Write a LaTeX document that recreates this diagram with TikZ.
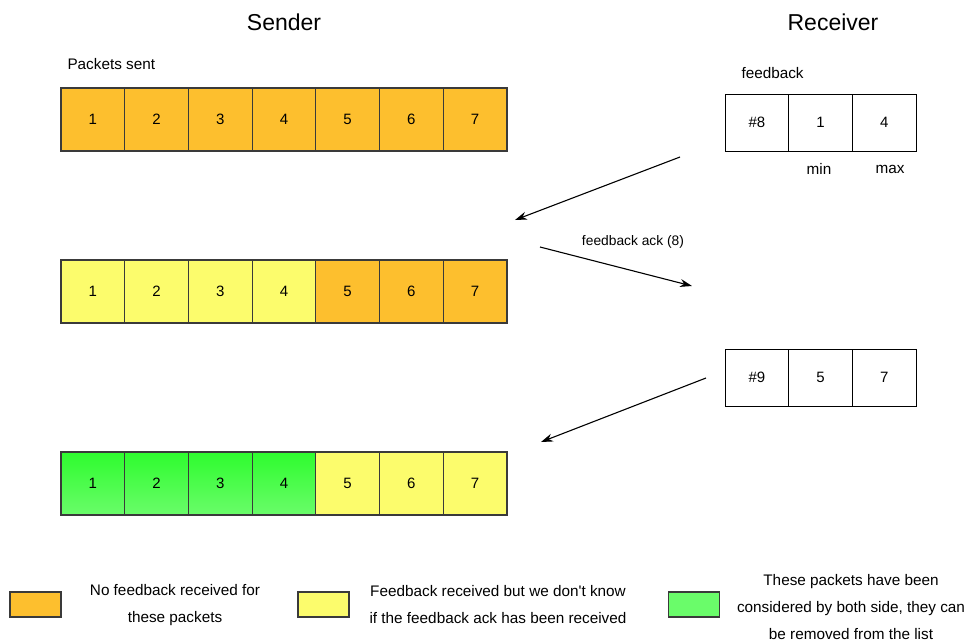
\documentclass[tikz,border=0pt]{standalone}
\usepackage{fontspec}
\setmainfont{Liberation Sans}
\usetikzlibrary{arrows.meta}
\definecolor{pktorange}{HTML}{FDBF2E}
\definecolor{pktyellow}{HTML}{FCFC6C}
\definecolor{pktgreentop}{HTML}{2EFC2E}
\definecolor{pktgreenbot}{HTML}{6AFC6A}
\definecolor{edge}{HTML}{3A3A3A}
\tikzset{
  cell/.style={draw=edge, line width=1.2pt, minimum width=63.7pt, minimum height=63pt,
    inner sep=0pt, font=\fontsize{15}{17}\selectfont},
  sentcell/.style={cell, fill=pktorange},
  ackcell/.style={cell, fill=pktyellow},
  donecell/.style={cell, top color=pktgreentop, bottom color=pktgreenbot},
  fbcell/.style={cell, draw=black, line width=0.9pt, minimum height=57pt, fill=white},
  title/.style={font=\fontsize{23}{27}\selectfont},
  lbl/.style={font=\fontsize{15.3}{18}\selectfont},
  acklabel/.style={font=\fontsize{13.8}{16}\selectfont},
  legtext/.style={font=\fontsize{15.3}{17}\selectfont, align=center},
  legbox/.style={draw=edge, line width=1.2pt, minimum width=51pt, minimum height=25pt, inner sep=0pt},
  msg/.style={-{Stealth[length=12pt,width=8pt]}, line width=1.1pt},
}
\begin{document}
\begin{tikzpicture}[x=1pt,y=-1pt]
\useasboundingbox (0,0) rectangle (970,643);

% headings
\node[title] (sender) at (284,22) {Sender};
\node[title] (receiver) at (833,22) {Receiver};
\node[lbl, anchor=west] (sentlbl) at (64,64) {Packets sent};
\node[lbl, anchor=west] (fblbl) at (738,73) {feedback};

% sender packet rows
\foreach \i in {1,...,7} {
  \node[sentcell] (a\i) at ({61+63.7*(\i-0.5)},119.5) {\i};
}
\foreach \i in {1,...,4} {
  \node[ackcell] (b\i) at ({61+63.7*(\i-0.5)},291.5) {\i};
  \node[donecell] (c\i) at ({61+63.7*(\i-0.5)},483.5) {\i};
}
\foreach \i in {5,...,7} {
  \node[sentcell] (b\i) at ({61+63.7*(\i-0.5)},291.5) {\i};
  \node[ackcell] (c\i) at ({61+63.7*(\i-0.5)},483.5) {\i};
}

% receiver feedback messages
\node[fbcell] (f1) at ({725+63.7*0.5},122.5) {\#8};
\node[fbcell] (f2) at ({725+63.7*1.5},122.5) {1};
\node[fbcell] (f3) at ({725+63.7*2.5},122.5) {4};
\node[lbl] (minlbl) at (819,169) {min};
\node[lbl] (maxlbl) at (890,169) {max};

\node[fbcell] (g1) at ({725+63.7*0.5},377.5) {\#9};
\node[fbcell] (g2) at ({725+63.7*1.5},377.5) {5};
\node[fbcell] (g3) at ({725+63.7*2.5},377.5) {7};

% message arrows
\coordinate (m1s) at (680,157);
\coordinate (m1e) at (515,220);
\coordinate (m2s) at (540,247);
\coordinate (m2e) at (692,286);
\coordinate (m3s) at (706,378);
\coordinate (m3e) at (541,442);
\draw[msg] (m1s) -- (m1e);
\draw[msg] (m2s) -- (m2e);
\draw[msg] (m3s) -- (m3e);
\node[acklabel] (acklbl) at (633,242) {feedback ack (8)};

% legend
\node[legbox, fill=pktorange] (k1) at (35.5,604.5) {};
\node[legtext] (t1) at (175,605) {No feedback received for\\[10pt]these packets};
\node[legbox, fill=pktyellow] (k2) at (323.5,604.5) {};
\node[legtext] (t2) at (498,605) {Feedback received but we don\textquotesingle t know\\[10pt]if the feedback ack has been received};
\node[legbox, fill=pktgreenbot] (k3) at (694,604.5) {};
\node[legtext] (t3) at (851,607.5) {These packets have been\\[10pt]considered by both side, they can\\[10pt]be removed from the list};
\end{tikzpicture}
\end{document}
